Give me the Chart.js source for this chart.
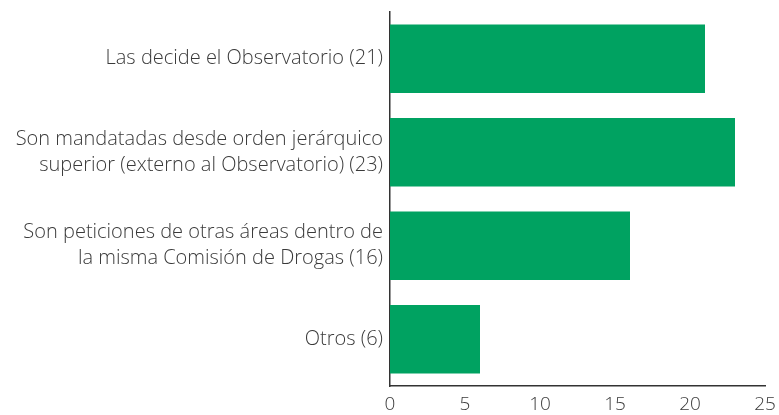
<!DOCTYPE html>
<html>
<head>
<meta charset="utf-8">
<script src="https://cdn.jsdelivr.net/npm/chart.js@4"></script>
<style>
  html, body { margin: 0; padding: 0; background: #fff; }
  #wrap { width: 779px; height: 415px; }
</style>
</head>
<body>
<div id="wrap"><canvas id="myChart"></canvas></div>
<script>
    const categories = [
        ['Las decide el Observatorio (21)'],
        ['Son mandatadas desde orden jerárquico', 'superior (externo al Observatorio) (23)'],
        ['Son peticiones de otras áreas dentro de', 'la misma Comisión de Drogas (16)'],
        ['Otros (6)']
    ];
    const values = [21, 23, 16, 6];
    const xTicks = [0, 5, 10, 15, 20, 25];

    var ctx = document.getElementById('myChart').getContext('2d');
    var chart = new Chart(ctx, {
        type: 'bar',
        data: {
            labels: categories,
            datasets: [{
                data: values,
                backgroundColor: '#00a261',
                borderWidth: 0,
                categoryPercentage: 0.73,
                barPercentage: 1
            }]
        },
        options: {
            indexAxis: 'y',
            responsive: true,
            maintainAspectRatio: false,
            animation: false,
            layout: { padding: { top: 12, right: 14, left: 0, bottom: 0 } },
            plugins: {
                legend: { display: false },
                tooltip: { enabled: false }
            },
            scales: {
                x: {
                    min: 0,
                    max: 25,
                    afterBuildTicks: function (scale) {
                        scale.ticks = xTicks.map(v => ({ value: v }));
                    },
                    afterFit: function (scale) {
                        scale.height = 29;
                        scale.paddingLeft = 0;
                        scale.paddingRight = 0;
                    },
                    grid: { display: false, drawTicks: false },
                    border: { display: true, color: '#333', width: 1.5 },
                    ticks: {
                        color: '#3a3a3a',
                        padding: 7,
                        font: { family: 'Open Sans', size: 19, weight: 300 }
                    }
                },
                y: {
                    afterFit: function (scale) {
                        scale.width = 390;
                        scale.paddingTop = 0;
                        scale.paddingBottom = 0;
                    },
                    grid: { display: false, drawTicks: false },
                    border: { display: true, color: '#333', width: 1.5 },
                    ticks: {
                        color: '#3a3a3a',
                        padding: 7,
                        font: { family: 'Open Sans', size: 20, weight: 300, lineHeight: 1.3 }
                    }
                }
            }
        }
    });
</script>
</body>
</html>
